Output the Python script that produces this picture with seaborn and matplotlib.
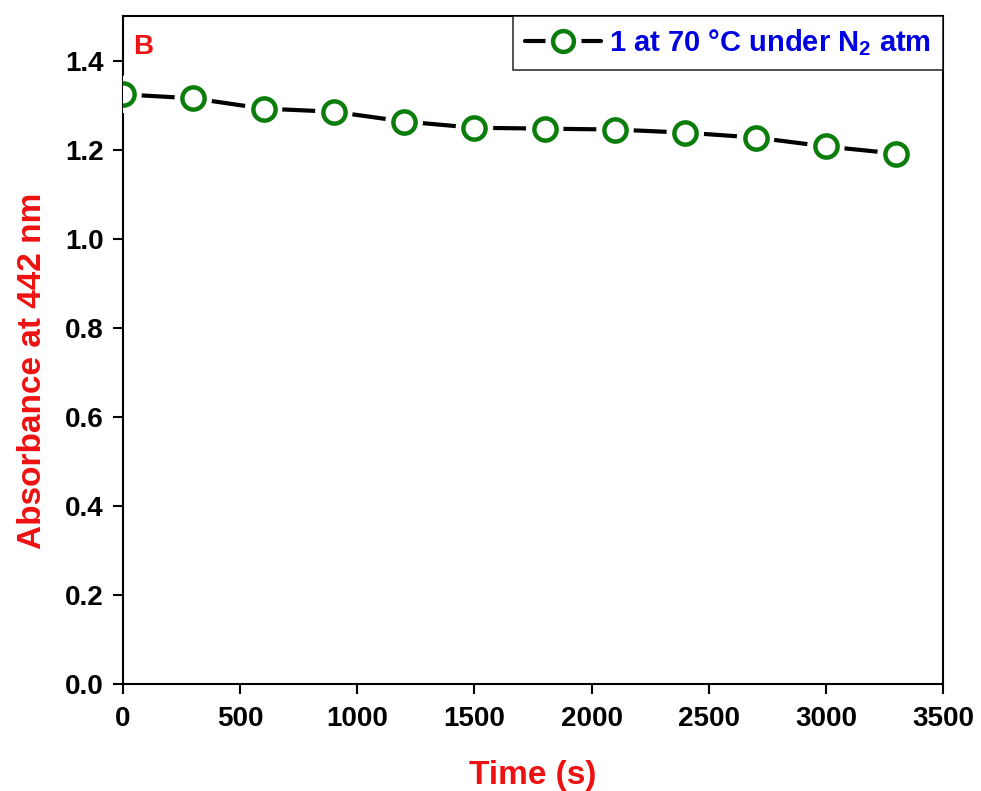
import matplotlib
matplotlib.use("Agg")
import matplotlib.pyplot as plt
from matplotlib.lines import Line2D
import seaborn as sns
import pandas as pd

time_s = [0, 300, 600, 900, 1200, 1500, 1800, 2100, 2400, 2700, 3000, 3300]
absorbance = [1.324, 1.315, 1.292, 1.285, 1.263, 1.249, 1.247, 1.245, 1.238, 1.227, 1.207, 1.191]
legend_label = "1 at 70 \u00b0C under N$_\\mathregular{2}$ atm"
x_ticks = [0, 500, 1000, 1500, 2000, 2500, 3000, 3500]
y_ticks = [0.0, 0.2, 0.4, 0.6, 0.8, 1.0, 1.2, 1.4]

sns.set_theme(style="white")
plt.rcParams['font.family'] = ['Liberation Sans', 'DejaVu Sans']
plt.rcParams['font.weight'] = 'bold'
plt.rcParams['mathtext.default'] = 'regular'
plt.rcParams['text.color'] = 'black'
plt.rcParams['xtick.color'] = 'black'
plt.rcParams['ytick.color'] = 'black'

df = pd.DataFrame({"t": time_s, "a": absorbance})

fig = plt.figure(figsize=(9.81, 7.91), dpi=100)
ax = fig.add_axes([0.1254, 0.1353, 0.8359, 0.8445])

green = "#0a7d0a"
sns.lineplot(data=df, x="t", y="a", ax=ax, color="black", linewidth=3.0, zorder=2)
sns.scatterplot(data=df, x="t", y="a", ax=ax, s=27**2, color="white", edgecolor="none",
                linewidth=0, zorder=3)
sns.scatterplot(data=df, x="t", y="a", ax=ax, s=16**2, facecolor="white", edgecolor=green,
                linewidth=3.2, zorder=4)

ax.set_xlim(0, 3500)
ax.set_ylim(0, 1.5)
ax.set_xticks(x_ticks)
ax.set_yticks(y_ticks)
ax.set_xticklabels([str(v) for v in x_ticks], fontsize=20, fontweight='bold', color='black')
ax.set_yticklabels([f"{v:.1f}" for v in y_ticks], fontsize=20, fontweight='bold', color='black')
ax.tick_params(axis='both', direction='out', length=7, width=1.5, color='black',
               bottom=True, left=True, top=False, right=False)
ax.tick_params(axis='x', pad=9)
ax.tick_params(axis='y', pad=7)
for sp in ax.spines.values():
    sp.set_visible(True)
    sp.set_color('black')
    sp.set_linewidth(1.5)

ax.set_xlabel("Time (s)", fontsize=24, fontweight='bold', color='#ee1111', labelpad=20)
ax.set_ylabel("Absorbance at 442 nm", fontsize=24, fontweight='bold', color='#ee1111')
ax.yaxis.set_label_coords(-0.091, 0.469)

ax.text(0.012, 0.953, "B", transform=ax.transAxes, fontsize=20, fontweight='bold',
        color='#ee1111', ha='left', va='center')

h_line = Line2D([], [], color='black', linewidth=3.0)
h_white = Line2D([], [], linestyle='none', marker='o', markersize=25,
                 markerfacecolor='white', markeredgecolor='white')
h_mark = Line2D([], [], linestyle='none', marker='o', markersize=15,
                markerfacecolor='white', markeredgecolor=green, markeredgewidth=3.2)
leg = ax.legend(handles=[(h_line, h_white, h_mark)], labels=[legend_label],
                loc='upper right', bbox_to_anchor=(1.0, 1.0), borderaxespad=0,
                frameon=True, fancybox=False, shadow=False, handlelength=2.6,
                handletextpad=0.3, borderpad=0.4,
                prop={'size': 21, 'weight': 'bold'})
leg.get_frame().set_edgecolor('black')
leg.get_frame().set_linewidth(1.2)
for t in leg.get_texts():
    t.set_color('#0000e0')

fig.savefig("out.png", dpi=100)
